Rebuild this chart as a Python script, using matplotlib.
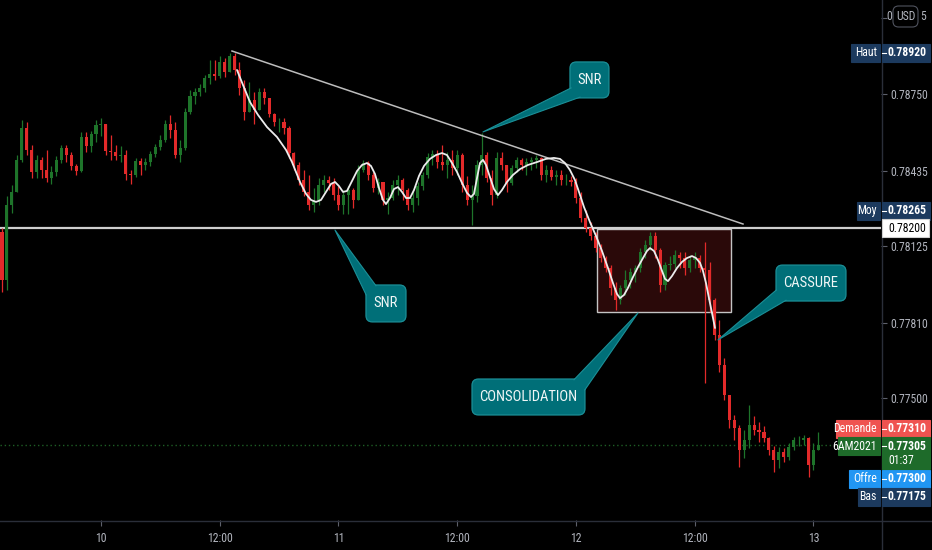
import matplotlib
matplotlib.use('Agg')
import matplotlib.pyplot as plt
import numpy as np
import pandas as pd
from matplotlib.patches import FancyBboxPatch, Polygon, Rectangle
from matplotlib.lines import Line2D
from matplotlib import font_manager

avail = {f.name for f in font_manager.fontManager.ttflist}
FONT = [f for f in ['Liberation Sans Narrow', 'Roboto Condensed', 'Roboto', 'DejaVu Sans'] if f in avail]
plt.rcParams['font.family'] = FONT

# ---------------- data (prices in points, 1 point = 0.00001) ----------------
start_time = '2021-05-09 14:00'
bar_freq = '30min'
first_open = 78183
close_pts = [77986, 78294, 78348, 78480, 78611, 78521, 78430, 78480, 78438, 78405,
             78430, 78480, 78529, 78500, 78455, 78434, 78574, 78537, 78587, 78623,
             78627, 78517, 78513, 78496, 78500, 78422, 78417, 78476, 78459, 78472,
             78504, 78533, 78562, 78627, 78603, 78500, 78529, 78677, 78743, 78760,
             78776, 78817, 78834, 78825, 78883, 78842, 78907, 78850, 78776, 78677,
             78726, 78685, 78760, 78735, 78669, 78636, 78636, 78611, 78509, 78459,
             78397, 78348, 78294, 78315, 78376, 78397, 78385, 78335, 78294, 78335,
             78356, 78315, 78438, 78468, 78417, 78364, 78389, 78315, 78323, 78376,
             78397, 78356, 78294, 78323, 78372, 78417, 78492, 78504, 78472, 78459,
             78480, 78447, 78500, 78376, 78315, 78331, 78459, 78500, 78405, 78335,
             78488, 78459, 78385, 78447, 78480, 78459, 78472, 78480, 78488, 78417,
             78438, 78409, 78417, 78397, 78397, 78389, 78323, 78241, 78200, 78166,
             78117, 78076, 78035, 77953, 77903, 77953, 77986, 78019, 78035, 78101,
             78130, 78166, 78109, 77965, 78047, 78051, 78089, 78076, 78035, 78068,
             78076, 78035, 78027, 77903, 77759, 77636, 77513, 77409, 77376, 77286,
             77327, 77389, 77368, 77360, 77335, 77286, 77245, 77278, 77257, 77298,
             77327, 77327, 77335, 77224, 77286, 77305]
high_pts = [78200, 78331, 78376, 78500, 78644, 78636, 78541, 78500, 78492, 78521,
            78455, 78496, 78541, 78541, 78513, 78464, 78595, 78595, 78599, 78644,
            78652, 78627, 78582, 78541, 78537, 78521, 78438, 78488, 78488, 78488,
            78517, 78545, 78582, 78644, 78664, 78636, 78562, 78693, 78768, 78776,
            78793, 78829, 78891, 78891, 78907, 78899, 78920, 78920, 78883, 78809,
            78801, 78760, 78776, 78776, 78735, 78673, 78652, 78652, 78619, 78513,
            78472, 78438, 78417, 78364, 78405, 78417, 78413, 78405, 78372, 78356,
            78372, 78364, 78459, 78480, 78476, 78430, 78405, 78389, 78348, 78397,
            78417, 78405, 78364, 78356, 78389, 78430, 78509, 78521, 78521, 78541,
            78513, 78521, 78521, 78509, 78413, 78376, 78480, 78591, 78513, 78438,
            78513, 78513, 78459, 78459, 78492, 78488, 78488, 78492, 78500, 78492,
            78459, 78455, 78438, 78438, 78422, 78413, 78405, 78348, 78274, 78225,
            78183, 78134, 78084, 78047, 77977, 77965, 78027, 78035, 78047, 78117,
            78150, 78183, 78183, 78117, 78060, 78084, 78109, 78101, 78101, 78089,
            78101, 78089, 78142, 78060, 77911, 77821, 77665, 77513, 77430, 77389,
            77368, 77471, 77426, 77401, 77385, 77339, 77302, 77298, 77294, 77315,
            77339, 77344, 77348, 77339, 77315, 77360]
low_pts = [77936, 77944, 78262, 78348, 78472, 78500, 78405, 78405, 78405, 78389,
           78381, 78413, 78468, 78472, 78438, 78417, 78430, 78513, 78513, 78554,
           78578, 78500, 78480, 78480, 78472, 78397, 78381, 78409, 78417, 78438,
           78455, 78492, 78521, 78554, 78570, 78488, 78472, 78521, 78669, 78710,
           78743, 78760, 78793, 78809, 78817, 78821, 78842, 78829, 78747, 78644,
           78677, 78627, 78685, 78710, 78656, 78619, 78595, 78587, 78488, 78438,
           78376, 78331, 78274, 78266, 78294, 78348, 78356, 78315, 78274, 78258,
           78258, 78282, 78315, 78430, 78397, 78348, 78340, 78294, 78258, 78315,
           78335, 78315, 78274, 78266, 78294, 78356, 78405, 78459, 78447, 78438,
           78405, 78417, 78417, 78348, 78294, 78212, 78307, 78417, 78389, 78294,
           78323, 78438, 78348, 78376, 78430, 78438, 78417, 78438, 78447, 78397,
           78389, 78397, 78376, 78376, 78376, 78372, 78303, 78225, 78183, 78150,
           78101, 78060, 78019, 77924, 77862, 77887, 77924, 77953, 77977, 78019,
           78076, 78109, 78076, 77936, 77944, 78027, 78035, 78035, 78006, 78019,
           78035, 78019, 77562, 77854, 77739, 77607, 77492, 77376, 77327, 77216,
           77253, 77294, 77348, 77319, 77319, 77265, 77195, 77212, 77237, 77245,
           77286, 77302, 77307, 77175, 77203, 77286]

# hand-drawn curve (bar index, price points)
curve_t = [47.49, 48.71, 50.12, 51.74, 53.56, 55.58, 57.40, 58.61, 60.23, 61.44,
           62.45, 63.46, 64.47, 65.48, 66.49, 67.30, 68.11, 68.92, 69.72, 70.74,
           71.75, 72.76, 73.77, 74.57, 75.38, 76.19, 77.00, 77.61, 78.41, 79.22,
           80.03, 80.84, 81.65, 82.46, 83.27, 84.28, 85.29, 86.50, 87.71, 88.92,
           89.93, 90.95, 91.96, 92.97, 93.98, 94.78, 95.39, 96.00, 96.60, 97.21,
           97.82, 98.62, 99.43, 100.24, 101.05, 102.06, 103.27, 104.69, 106.30, 108.12,
           109.94, 111.56, 112.77, 113.78, 114.79, 115.80, 116.61, 117.62, 118.83, 120.05,
           121.26, 122.47, 123.48, 124.29, 124.90, 125.71, 126.51, 127.53, 128.54, 129.55,
           130.35, 130.96, 131.77, 132.58, 133.39, 134.00, 134.60, 135.41, 136.42, 137.43,
           138.44, 139.45, 140.26, 141.07, 141.67, 142.28, 142.88, 143.49, 144.10]
curve_p = [78850, 78788, 78718, 78665, 78615, 78574, 78521, 78471, 78389, 78340,
           78315, 78307, 78315, 78348, 78381, 78389, 78372, 78348, 78352, 78393,
           78434, 78459, 78467, 78455, 78422, 78364, 78315, 78298, 78323, 78360,
           78368, 78348, 78323, 78323, 78356, 78414, 78455, 78484, 78500, 78508,
           78500, 78467, 78430, 78385, 78344, 78327, 78340, 78405, 78467, 78480,
           78459, 78409, 78360, 78335, 78356, 78389, 78418, 78442, 78459, 78471,
           78484, 78488, 78484, 78467, 78438, 78397, 78348, 78286, 78224, 78167,
           78105, 78035, 77973, 77928, 77911, 77924, 77953, 77998, 78039, 78076,
           78105, 78117, 78105, 78068, 78023, 77990, 77981, 78002, 78035, 78060,
           78076, 78084, 78076, 78056, 78023, 77973, 77911, 77850, 77788]

snr_level = 0.78200
trend_t = [46.48, 149.76]
trend_p = [0.78928, 0.78216]
rect_t = [120.25, 147.33]
rect_p = [0.77854, 0.78196]
last_price = 0.77305

price_ticks = [0.79065, 0.78750, 0.78435, 0.78125, 0.77810, 0.77500]
price_labels = ['', '0.78750', '0.78435', '0.78125', '0.77810', '0.77500']

callouts = [
    dict(text='SNR', box=(114.79, 122.67, 0.78735, 0.78883), tip=(97.21, 0.78595),
         base=((115.0, 0.78776), (116.82, 0.78738))),
    dict(text='SNR', box=(73.56, 81.65, 0.77813, 0.77965), tip=(67.30, 0.78191),
         base=((73.60, 0.77924), (75.58, 0.77962))),
    dict(text='CONSOLIDATION', box=(94.99, 117.82, 0.77430, 0.77578), tip=(128.54, 0.77850),
         base=((115.6, 0.77575), (117.78, 0.77533))),
    dict(text='CASSURE', box=(156.43, 170.57, 0.77899, 0.78047), tip=(144.70, 0.77739),
         base=((156.47, 0.77944), (158.45, 0.77902))),
]

# ---------------- style ----------------
UP = '#1e742a'
DOWN = '#e32a2a'
TEAL = '#006f78'
TEAL_EDGE = '#1b8f97'
AXIS_TXT = '#b2b5be'
NAVY = '#1c3a5e'
W, H = 932, 550
X0, X1 = -0.404, 177.65
Y0, Y1 = 0.769977, 0.79138

fig = plt.figure(figsize=(W / 100, H / 100), dpi=100, facecolor='black')
ax = fig.add_axes([0, 30 / H, 881 / W, 520 / H])
ax.set_facecolor('black')
ax.set_xlim(X0, X1)
ax.set_ylim(Y0, Y1)
for s in ax.spines.values():
    s.set_visible(False)

n = len(close_pts)
times = pd.date_range(start_time, periods=n, freq=bar_freq)
xi = np.arange(n)
c = np.array(close_pts) / 1e5
o = np.array([first_open] + close_pts[:-1]) / 1e5
h = np.maximum(np.array(high_pts) / 1e5, np.maximum(o, c))
l = np.minimum(np.array(low_pts) / 1e5, np.minimum(o, c))
col = np.where(c >= o, UP, DOWN)

ax.vlines(xi, l, h, colors=col, lw=0.9, zorder=3)
ax.bar(xi, np.maximum(np.abs(c - o), 0.000012), bottom=np.minimum(o, c), width=0.62,
       color=col, lw=0, zorder=3)

# drawings
ax.add_patch(Rectangle((rect_t[0], rect_p[0]), rect_t[1] - rect_t[0], rect_p[1] - rect_p[0],
                       facecolor='#2a0909', edgecolor='#c4c4c4', lw=1.0, zorder=1))
ax.axhline(snr_level, color='#cfcfcf', lw=1.6, zorder=2)
ax.axhline(last_price, color='#1e5e25', lw=1.0, ls=(0, (1, 2)), zorder=1)
ax.plot(trend_t, trend_p, color='#bdbdbd', lw=1.1, zorder=4)
ax.plot(curve_t, np.array(curve_p) / 1e5, color='#ececec', lw=1.3, zorder=4,
        solid_joinstyle='round', solid_capstyle='round')

aspect = (881 / (X1 - X0)) / (520 / (Y1 - Y0))
for co in callouts:
    bx0, bx1, by0, by1 = co['box']
    ax.add_patch(FancyBboxPatch((bx0, by0), bx1 - bx0, by1 - by0,
                                boxstyle='round,pad=0,rounding_size=1.3', mutation_aspect=aspect,
                                facecolor=TEAL, edgecolor=TEAL_EDGE, lw=0.9, zorder=6))
    pts = [co['base'][0], co['tip'], co['base'][1]]
    ax.add_patch(Polygon(pts, closed=True, facecolor=TEAL, edgecolor='none', zorder=7))
    ax.plot([p[0] for p in pts], [p[1] for p in pts], color=TEAL_EDGE, lw=0.8, zorder=7)
    ax.text((bx0 + bx1) / 2, (by0 + by1) / 2, co['text'], color='#f0f6f6', ha='center',
            va='center', fontsize=10.5, zorder=8)

# axes ticks
ax.yaxis.tick_right()
ax.set_yticks(price_ticks)
ax.set_yticklabels(price_labels)
tick_idx = [i for i, t in enumerate(times) if t.minute == 0 and t.hour in (0, 12)]
tick_lab = [str(times[i].day) if times[i].hour == 0 else '12:00' for i in tick_idx]
ax.set_xticks(tick_idx)
ax.set_xticklabels(tick_lab)
ax.tick_params(axis='both', colors='#5d606b', labelcolor=AXIS_TXT, labelsize=8.5,
               length=4, width=0.8)
ax.tick_params(axis='y', pad=3)
ax.tick_params(axis='x', pad=5)

# frame lines
fig.add_artist(Line2D([0, 1], [1 - 520.5 / H] * 2, transform=fig.transFigure, color='#2a2e39', lw=1))
fig.add_artist(Line2D([881.5 / W] * 2, [0, 1], transform=fig.transFigure, color='#2a2e39', lw=1))


def fx(x):
    return x / W


def fy(y):
    return 1 - y / H


def box(x0, y0, x1, y1, fc, ec=None, lw=0.8, round_=False):
    if round_:
        p = FancyBboxPatch((fx(x0), fy(y1)), fx(x1) - fx(x0), fy(y0) - fy(y1),
                           boxstyle='round,pad=0,rounding_size=0.006', transform=fig.transFigure,
                           facecolor=fc, edgecolor=ec or fc, lw=lw, zorder=20,
                           mutation_aspect=W / H)
    else:
        p = Rectangle((fx(x0), fy(y1)), fx(x1) - fx(x0), fy(y0) - fy(y1), transform=fig.transFigure,
                      facecolor=fc, edgecolor=ec or fc, lw=lw, zorder=20)
    fig.add_artist(p)


def ftext(x, y, s, color='white', ha='left', size=8.5, weight='normal'):
    fig.text(fx(x), fy(y), s, color=color, ha=ha, va='center', fontsize=size,
             fontweight=weight, zorder=21)


# USD badge over the clipped top price label
ftext(886, 16.5, '0', color=AXIS_TXT)
ftext(920.5, 16.5, '5', color=AXIS_TXT)
box(893, 6, 918, 27, 'black', '#50535e', round_=True)
ftext(905.5, 16.5, 'USD', color=AXIS_TXT, ha='center')

# price tags: (left label, left x, value text, y-centre, colour, text colour)
tags = [
    ('Haut', 851, '0.78920', 53, NAVY, 'white'),
    ('Moy', 857, '0.78265', 211, NAVY, 'white'),
    ('Demande', 836, '0.77310', 429, '#ef5350', 'white'),
    ('Offre', 849, '0.77300', 479, '#2196f3', 'white'),
    ('Bas', 858, '0.77175', 497, NAVY, 'white'),
]
for lab, lx, val, yc, fc, tc in tags:
    box(lx, yc - 9, 880, yc + 9, fc)
    ftext(877, yc, lab, color=tc, ha='right')
    box(881.5, yc - 9, 930, yc + 9, fc)
    ftext(888, yc, val, color=tc, weight='bold')
    fig.add_artist(Line2D([fx(881.5), fx(885.5)], [fy(yc)] * 2, transform=fig.transFigure,
                          color='white', lw=0.8, zorder=22))

# last price (green, two lines)
box(838, 437, 880, 455, '#1e6b2a')
ftext(877, 446, '6AM2021', ha='right')
box(881.5, 437, 930, 469, '#1e6b2a')
ftext(888, 446, '0.77305', weight='bold')
ftext(888, 461, '01:37')
fig.add_artist(Line2D([fx(881.5), fx(885.5)], [fy(446)] * 2, transform=fig.transFigure,
                      color='white', lw=0.8, zorder=22))

# SNR level tag
box(881.5, 219, 929, 237, 'white', '#d0d0d0')
ftext(888, 228, '0.78200', color='black')

fig.savefig('out.png', dpi=100, facecolor='black')
